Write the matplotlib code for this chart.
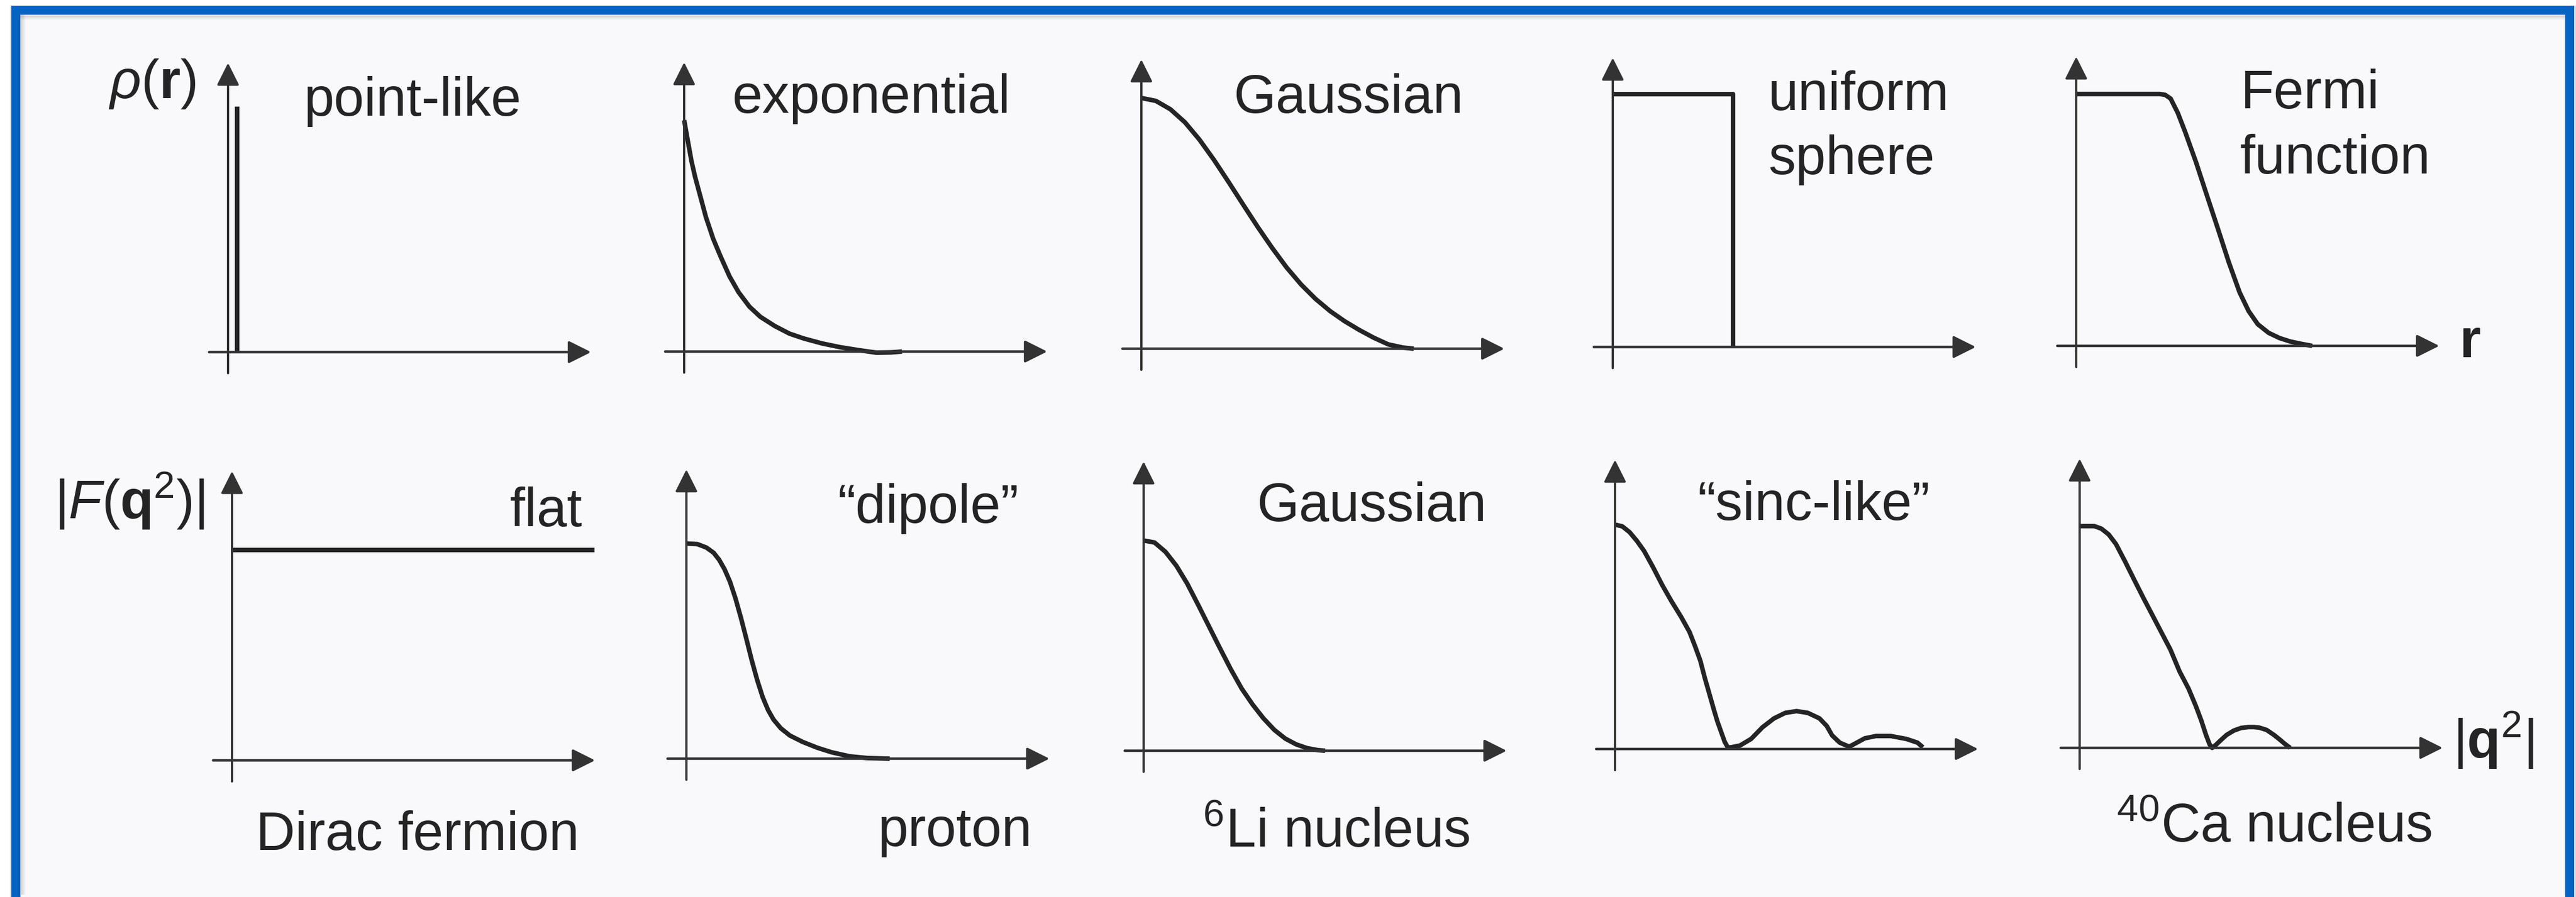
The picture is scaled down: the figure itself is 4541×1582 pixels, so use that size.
import matplotlib
matplotlib.use("Agg")
import matplotlib.pyplot as plt
from matplotlib.patches import Rectangle
from matplotlib.lines import Line2D

plt.rcParams["font.family"] = ["Liberation Sans", "DejaVu Sans"]
plt.rcParams["mathtext.fontset"] = "custom"
plt.rcParams["mathtext.rm"] = "Liberation Sans"
plt.rcParams["mathtext.it"] = "Liberation Sans:italic"
plt.rcParams["mathtext.bf"] = "Liberation Sans:bold"

# ---------------------------------------------------------------- data
# Charge distributions rho(r) (top row), in arbitrary units along r
point_x = [0.25, 0.25]
point_y = [0.0, 8.49]

expo_x = [0, 0.1, 0.2, 0.3, 0.45, 0.6, 0.8, 1.0, 1.25, 1.5, 1.8, 2.1,
          2.5, 2.9, 3.3, 3.8, 4.3, 4.8, 5.3, 5.7, 6.0]
expo_y = [8.0, 7.3, 6.6, 6.05, 5.35, 4.65, 3.9, 3.3, 2.6, 2.05, 1.55, 1.2,
          0.88, 0.62, 0.45, 0.28, 0.15, 0.05, -0.04, -0.03, 0.0]

gauss_r_x = [0, 0.4, 0.8, 1.2, 1.6, 2.0, 2.4, 2.8, 3.2, 3.6, 4.0, 4.4,
             4.8, 5.2, 5.6, 6.0, 6.4, 6.8, 7.2, 7.5]
gauss_r_y = [8.67, 8.57, 8.28, 7.83, 7.23, 6.53, 5.77, 4.99, 4.22, 3.49,
             2.81, 2.22, 1.72, 1.30, 0.95, 0.65, 0.38, 0.15, 0.04, 0.0]

sphere_x = [0, 3.31, 3.31]
sphere_y = [8.75, 8.75, 0.0]

fermi_x = [0, 2.3, 2.45, 2.6, 2.8, 3.0, 3.3, 3.6, 3.9, 4.2, 4.5, 4.75,
           5.0, 5.3, 5.6, 5.9, 6.2, 6.5]
fermi_y = [8.71, 8.71, 8.68, 8.55, 8.05, 7.4, 6.35, 5.2, 4.06, 2.9, 1.85,
           1.2, 0.75, 0.45, 0.27, 0.15, 0.07, 0.0]

# Form factors |F(q^2)| (bottom row), in arbitrary units along |q^2|
flat_x = [0, 9.98]
flat_y = [7.27, 7.27]

dipole_x = [0, 0.3, 0.55, 0.75, 0.9, 1.05, 1.2, 1.35, 1.5, 1.65, 1.8,
            1.95, 2.1, 2.25, 2.4, 2.6, 2.85, 3.2, 3.6, 4.0, 4.5, 5.0, 5.6]
dipole_y = [7.44, 7.42, 7.3, 7.12, 6.88, 6.55, 6.12, 5.55, 4.88, 4.15, 3.4,
            2.72, 2.13, 1.68, 1.35, 1.05, 0.8, 0.58, 0.38, 0.22, 0.08,
            0.02, 0.0]

gauss_q_x = [0, 0.3, 0.6, 0.9, 1.2, 1.5, 1.8, 2.1, 2.4, 2.7, 3.0, 3.3,
             3.6, 3.9, 4.2, 4.5, 4.8, 5.0]
gauss_q_y = [7.27, 7.2, 6.88, 6.4, 5.78, 5.05, 4.3, 3.55, 2.82, 2.15, 1.6,
             1.12, 0.72, 0.42, 0.22, 0.09, 0.02, 0.0]

sinc_x = [0, 0.2, 0.4, 0.6, 0.8, 1.05, 1.3, 1.55, 1.82, 2.05, 2.2, 2.35,
          2.47, 2.6, 2.72, 2.82, 2.92, 3.02, 3.11, 3.2, 3.44, 3.75, 4.06,
          4.38, 4.69, 5.0, 5.31, 5.63, 5.83, 5.98, 6.19, 6.45, 6.66, 6.88,
          7.19, 7.59, 8.02, 8.33, 8.48]
sinc_y = [7.76, 7.7, 7.5, 7.2, 6.85, 6.28, 5.67, 5.12, 4.57, 4.05, 3.57,
          3.05, 2.47, 1.9, 1.37, 0.95, 0.6, 0.25, 0.05, 0.06, 0.12, 0.35,
          0.75, 1.06, 1.25, 1.31, 1.25, 1.06, 0.80, 0.47, 0.22, 0.08, 0.22,
          0.37, 0.45, 0.45, 0.35, 0.22, 0.06]

ca_x = [0, 0.4, 0.6, 0.8, 1.0, 1.25, 1.5, 1.75, 2.0, 2.25, 2.5, 2.75, 3.0,
        3.2, 3.35, 3.48, 3.58, 3.65, 3.75, 3.9, 4.05, 4.25, 4.45, 4.65,
        4.8, 4.95, 5.15, 5.35, 5.5, 5.65, 5.8]
ca_y = [7.67, 7.67, 7.58, 7.38, 7.05, 6.45, 5.82, 5.2, 4.6, 4.0, 3.4, 2.65,
        2.05, 1.45, 0.95, 0.45, 0.12, 0.0, 0.1, 0.28, 0.45, 0.6, 0.69, 0.72,
        0.72, 0.7, 0.62, 0.45, 0.3, 0.14, 0.0]

curves = [
    (point_x, point_y), (expo_x, expo_y), (gauss_r_x, gauss_r_y),
    (sphere_x, sphere_y), (fermi_x, fermi_y),
    (flat_x, flat_y), (dipole_x, dipole_y), (gauss_q_x, gauss_q_y),
    (sinc_x, sinc_y), (ca_x, ca_y),
]

# ---------------------------------------------------------------- layout
W, H, DPI = 4541, 1582, 100
UX, UY = 64.0, 51.0          # pixels per data unit in each small panel

# origin of every panel (pixel position of the axis crossing)
origins = [
    (402, 621), (1206, 620), (2012, 615), (2843, 612), (3660, 610),
    (409, 1341), (1210, 1338), (2016, 1324), (2847, 1321), (3666, 1319),
]

# text labels: (string, left x px, baseline y px)
labels = [
    (r"$\rho(\mathbf{r})$", 191, 173),
    ("point-like", 536, 204),
    ("exponential", 1291, 199),
    ("Gaussian", 2174, 199),
    ("uniform", 3117, 194),
    ("sphere", 3117, 307),
    ("Fermi", 3949, 191),
    ("function", 3949, 306),
    (r"$\mathbf{r}$", 4335, 630),
    (r"$|F(\mathbf{q}^2)|$", 96, 915),
    ("flat", 899, 928),
    ("Dirac fermion", 451, 1499),
    ("\u201cdipole\u201d", 1477, 922),
    ("proton", 1548, 1492),
    ("Gaussian", 2215, 919),
    (r"$^{6}$Li nucleus", 2120, 1494),
    ("\u201csinc-like\u201d", 2992, 917),
    (r"$|\mathbf{q}^2|$", 4324, 1337),
    (r"$^{40}$Ca nucleus", 3731, 1485),
]

BLUE = "#0563C1"
INK = "#242424"
AXIS_INK = "#333333"
PAPER = "#F9F9FB"
FS = 69                      # font size in points (about 96 px)
PX = 72.0 / DPI              # one pixel in points


def fx(x):
    return x / W


def fy(y):
    return 1.0 - y / H


fig = plt.figure(figsize=(W / DPI, H / DPI), dpi=DPI, facecolor="white")

# paper area inside the frame
fig.add_artist(Rectangle((fx(28), fy(1590)), (4530 - 28) / W, (1590 - 18) / H,
                         transform=fig.transFigure, facecolor=PAPER,
                         edgecolor="none", zorder=-10))

# soft drop shadows along the frame
for i in range(8):
    a = 0.30 * (1 - i / 8.0)
    y = 26 + i + 0.5
    fig.add_artist(Line2D([fx(36), fx(4522)], [fy(y), fy(y)],
                          transform=fig.transFigure, color="#7a7a7a",
                          lw=PX, alpha=a, zorder=-5))
    x = 36 + i + 0.5
    fig.add_artist(Line2D([fx(x), fx(x)], [fy(26), fy(1577)],
                          transform=fig.transFigure, color="#7a7a7a",
                          lw=PX, alpha=a, zorder=-5))
for i in range(4):
    a = 0.35 * (1 - i / 4.0)
    x = 19.5 - i
    fig.add_artist(Line2D([fx(x), fx(x)], [fy(10), fy(1582)],
                          transform=fig.transFigure, color="#7a7a7a",
                          lw=PX, alpha=a, zorder=-5))
    x = 4538.5 + i
    fig.add_artist(Line2D([fx(x), fx(x)], [fy(10), fy(1582)],
                          transform=fig.transFigure, color="#7a7a7a",
                          lw=PX, alpha=a, zorder=-5))
    x = 4521.5 - i
    fig.add_artist(Line2D([fx(x), fx(x)], [fy(26), fy(1577)],
                          transform=fig.transFigure, color="#9a9a9a",
                          lw=PX, alpha=a * 0.7, zorder=-5))

# blue frame
fig.add_artist(Rectangle((fx(28), fy(1585)), (4530 - 28) / W, (1585 - 18) / H,
                         transform=fig.transFigure, fill=False,
                         edgecolor=BLUE, lw=16 * PX, joinstyle="miter",
                         zorder=20))

# ---------------------------------------------------------------- panels
arrow_style = "-|>,head_length=0.4,head_width=0.2"
for (ox, oy), (cx, cy) in zip(origins, curves):
    ax = fig.add_axes([fx(ox - 0.8 * UX), fy(oy + 0.9 * UY),
                       11.6 * UX / W, 11.3 * UY / H])
    ax.set_xlim(-0.8, 10.8)
    ax.set_ylim(-0.9, 10.4)
    ax.axis("off")
    ax.patch.set_alpha(0)
    ax.annotate("", xy=(10, 0), xytext=(-0.52, 0),
                arrowprops=dict(arrowstyle=arrow_style, mutation_scale=61,
                                lw=4.5 * PX, color=AXIS_INK,
                                shrinkA=0, shrinkB=0))
    ax.annotate("", xy=(0, 10), xytext=(0, -0.73),
                arrowprops=dict(arrowstyle=arrow_style, mutation_scale=61,
                                lw=4.0 * PX, color=AXIS_INK,
                                shrinkA=0, shrinkB=0))
    ax.plot(cx, cy, color=INK, lw=8 * PX, solid_joinstyle="round",
            solid_capstyle="butt", clip_on=False)

for s, x, y in labels:
    fig.text(fx(x), fy(y), s, fontsize=FS, color=INK,
             ha="left", va="baseline")

fig.savefig("out.png", dpi=DPI, facecolor="white")
